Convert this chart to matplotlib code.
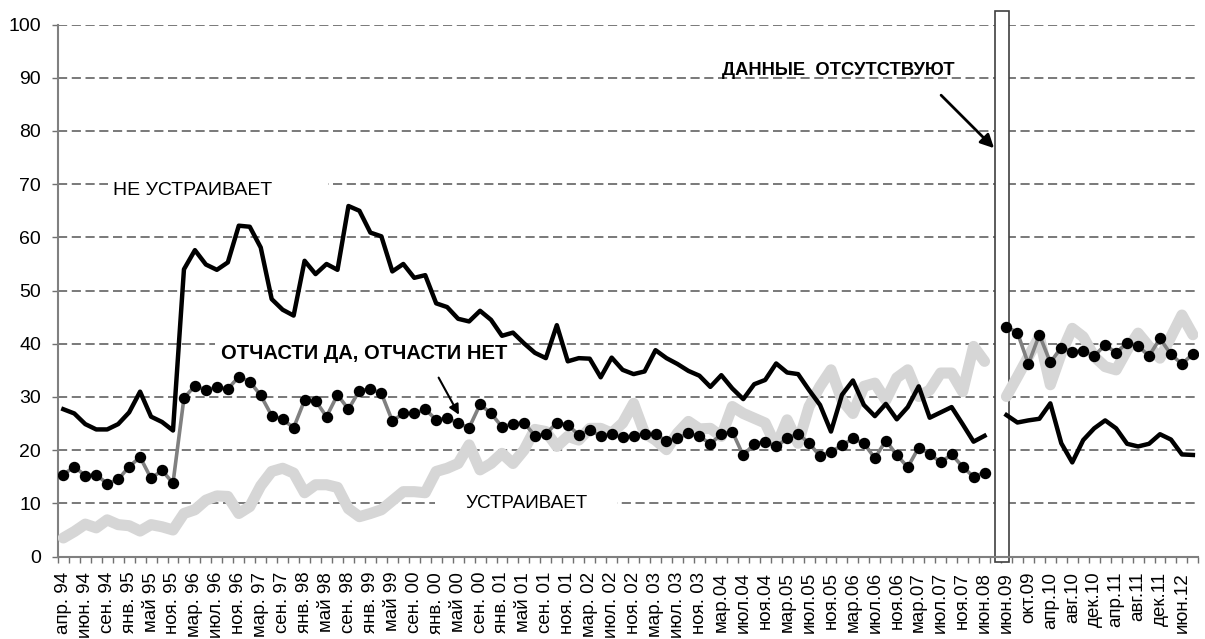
import numpy as np
import matplotlib
matplotlib.use('Agg')
import matplotlib.pyplot as plt
from matplotlib.patches import Rectangle

plt.rcParams['font.family'] = ['Liberation Sans', 'DejaVu Sans']

labels = ['апр. 94', 'июн. 94', 'сен. 94', 'янв. 95', 'май 95', 'ноя. 95', 'мар. 96',
          'июл. 96', 'ноя. 96', 'мар. 97', 'сен. 97', 'янв. 98', 'май 98', 'сен. 98',
          'янв. 99', 'май 99', 'сен. 00', 'янв. 00', 'май 00', 'сен. 00', 'янв. 01',
          'май 01', 'сен. 01', 'ноя. 01', 'мар. 02', 'июл. 02', 'ноя. 02', 'мар. 03',
          'июл. 03', 'ноя. 03', 'мар.04', 'июл.04', 'ноя.04', 'мар.05', 'июл.05',
          'ноя.05', 'мар.06', 'июл.06', 'ноя.06', 'мар.07', 'июл.07', 'ноя.07',
          'июн.08', 'июн.09', 'окт.09', 'апр.10', 'авг.10', 'дек.10', 'апр.11',
          'авг.11', 'дек.11', 'июн.12']

# апр.94 - июн.08
partly_1 = [15.4, 16.9, 15.2, 15.4, 13.7, 14.5, 16.9, 18.7, 14.7, 16.2,
            13.8, 29.8, 32.1, 31.3, 31.8, 31.5, 33.8, 32.9, 30.3, 26.5,
            25.8, 24.2, 29.4, 29.3, 26.3, 30.4, 27.7, 31.2, 31.5, 30.7,
            25.5, 26.9, 26.9, 27.7, 25.7, 26.0, 25.1, 24.2, 28.6, 26.9,
            24.4, 24.9, 25.2, 22.7, 23.0, 25.2, 24.7, 22.9, 23.7, 22.7,
            23.0, 22.4, 22.7, 23.1, 23.0, 21.7, 22.2, 23.2, 22.6, 21.2,
            23.0, 23.5, 19.0, 21.2, 21.6, 20.7, 22.2, 23.1, 21.3, 18.9,
            19.7, 20.9, 22.2, 21.3, 18.5, 21.8, 19.1, 16.8, 20.5, 19.3,
            17.7, 19.2, 16.9, 15.0, 15.8]
not_ok_1 = [27.7, 26.9, 24.9, 23.9, 23.9, 24.9, 27.1, 31.0, 26.3, 25.3,
            23.7, 54.0, 57.6, 54.9, 53.9, 55.3, 62.2, 62.0, 58.1, 48.4,
            46.4, 45.3, 55.6, 53.1, 55.0, 53.9, 65.9, 65.0, 60.9, 60.2,
            53.6, 55.0, 52.4, 52.9, 47.6, 46.9, 44.7, 44.2, 46.2, 44.5,
            41.5, 42.1, 40.1, 38.3, 37.3, 43.5, 36.7, 37.3, 37.2, 33.7,
            37.4, 35.1, 34.3, 34.8, 38.8, 37.3, 36.2, 34.9, 34.0, 31.9,
            34.1, 31.6, 29.6, 32.4, 33.2, 36.3, 34.6, 34.3, 31.3, 28.5,
            23.5, 30.4, 33.1, 28.5, 26.4, 28.7, 25.8, 28.1, 32.0, 26.1,
            27.1, 28.1, 24.9, 21.6, 22.7]
ok_1 = [3.5, 4.7, 6.1, 5.4, 6.9, 6.0, 5.8, 4.8, 6.0, 5.6,
        5.0, 8.1, 8.8, 10.6, 11.4, 11.3, 8.1, 9.4, 13.3, 16.0,
        16.6, 15.7, 12.0, 13.5, 13.5, 13.0, 9.0, 7.5, 8.1, 8.8,
        10.5, 12.2, 12.2, 12.0, 16.0, 16.6, 17.5, 21.0, 16.3, 17.5,
        19.4, 17.5, 20.0, 23.9, 23.5, 20.7, 22.6, 21.9, 24.1, 24.1,
        23.2, 25.1, 28.8, 23.2, 21.9, 20.1, 23.2, 25.4, 24.0, 24.1,
        22.6, 28.2, 26.9, 26.0, 25.1, 20.7, 25.7, 21.3, 28.2, 32.0,
        35.1, 29.4, 26.9, 32.0, 32.6, 29.4, 33.6, 35.1, 30.1, 31.3,
        34.5, 34.5, 31.0, 39.5, 36.7]

# июн.09 - июн.12
partly_2 = [43.2, 42.1, 36.2, 41.7, 36.5, 39.3, 38.5, 38.7, 37.7, 39.8,
            38.3, 40.2, 39.6, 37.7, 41.0, 38.0, 36.2, 38.1]
not_ok_2 = [26.6, 25.2, 25.6, 25.9, 28.8, 21.3, 17.7, 21.9, 24.1, 25.6,
            24.1, 21.2, 20.7, 21.2, 23.0, 22.0, 19.2, 19.1]
ok_2 = [30.1, 33.8, 37.6, 41.3, 32.3, 38.2, 42.9, 41.3, 37.6, 35.7,
        35.1, 38.8, 42.0, 39.5, 37.3, 41.3, 45.4, 41.7]

gap = [np.nan]  # one missing survey between июн.08 and июн.09
partly = np.array(partly_1 + gap + partly_2)
not_ok = np.array(not_ok_1 + gap + not_ok_2)
ok = np.array(ok_1 + gap + ok_2)
x = np.arange(len(partly))
gap_pos = len(partly_1)

fig = plt.figure(figsize=(12.05, 6.39), dpi=100)
ax = fig.add_axes([0.048, 0.129, 0.9465, 0.8325])

ax.plot(x, ok, color='#d6d6d6', lw=8, solid_joinstyle='round',
        solid_capstyle='round', zorder=3)
ax.plot(x, not_ok, color='black', lw=3.2, zorder=4)
ax.plot(x, partly, color='#808080', lw=2.6, marker='o', ms=7.2,
        mfc='black', mec='black', zorder=5)

ax.set_xlim(-0.5, len(x) - 0.5)
ax.set_ylim(0, 100)
ax.set_yticks(range(0, 101, 10))
ax.yaxis.grid(True, color='#555555', lw=1.1, linestyle=(0, (6, 3)))
ax.set_axisbelow(True)

label_pos = list(range(0, gap_pos, 2)) + list(range(gap_pos + 1, len(x), 2))
ax.set_xticks(label_pos)
ax.set_xticklabels(labels, rotation=90, fontsize=13.5)
ax.set_xticks(np.arange(-0.5, len(x)), minor=True)
ax.tick_params(axis='x', which='major', length=0, pad=11)
ax.tick_params(axis='x', which='minor', length=4, width=1, color='#707070')
ax.tick_params(axis='y', length=4, width=1, color='#707070', labelsize=14, pad=8)

for s in ['top', 'right']:
    ax.spines[s].set_visible(False)
for s in ['left', 'bottom']:
    ax.spines[s].set_color('#808080')
    ax.spines[s].set_linewidth(1.5)

# white boxes behind the series captions
ax.add_patch(Rectangle((4.1, 66.3), 20.0, 5.2, fc='white', ec='none', zorder=1.5))
ax.add_patch(Rectangle((13.8, 35.8), 27.2, 4.9, fc='white', ec='none', zorder=1.5))
ax.add_patch(Rectangle((33.9, 7.6), 16.6, 4.5, fc='white', ec='none', zorder=1.5))

ax.text(4.5, 68.9, 'НЕ УСТРАИВАЕТ', fontsize=14, va='center', ha='left', zorder=6)
ax.text(27.4, 38.2, 'ОТЧАСТИ ДА, ОТЧАСТИ НЕТ', fontsize=14.5, fontweight='bold',
        va='center', ha='center', zorder=6)
ax.text(42.25, 10.06, 'УСТРАИВАЕТ', fontsize=13.6, va='center', ha='center', zorder=6)
ax.text(70.7, 91.45, 'ДАННЫЕ  ОТСУТСТВУЮТ', fontsize=13.2, fontweight='bold',
        va='center', ha='center', zorder=6)

ax.annotate('', xy=(36.2, 26.2), xytext=(34.1, 34.1),
            arrowprops=dict(arrowstyle='-|>', color='black', lw=1.5,
                            mutation_scale=15), zorder=6)
ax.annotate('', xy=(85.05, 76.4), xytext=(79.86, 87.1),
            arrowprops=dict(arrowstyle='-|>', color='black', lw=2.0,
                            mutation_scale=20), zorder=6)

# frame marking the missing survey
ax.add_patch(Rectangle((gap_pos, -1.0), 1.26, 103.6, fc='white', ec='#404040',
                       lw=1.2, zorder=2.5, clip_on=False))

fig.savefig('out.png', dpi=100)
